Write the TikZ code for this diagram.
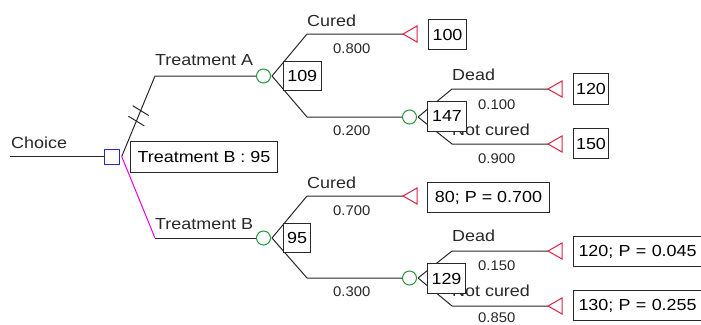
\documentclass[tikz,border=0pt]{standalone}
\usepackage{fontspec}
\setmainfont{Liberation Sans}
\newfontfamily\labelfont[FakeStretch=1.12]{Liberation Sans}
\newfontfamily\probfont[FakeStretch=1.06]{Liberation Sans}
\usetikzlibrary{calc}
\definecolor{linecol}{RGB}{40,40,40}
\definecolor{deccol}{RGB}{40,40,200}
\definecolor{chancecol}{RGB}{40,150,60}
\definecolor{termcol}{RGB}{220,30,70}
\definecolor{optcol}{RGB}{230,0,230}
\tikzset{
  branch/.style={draw=linecol, line width=1pt},
  decnode/.style={draw=deccol, line width=1pt, fill=white, minimum size=15pt, inner sep=0pt},
  chancenode/.style={circle, draw=chancecol, line width=1pt, fill=white, minimum size=14pt, inner sep=0pt},
  valbox/.style={draw=linecol, line width=1pt, fill=white, anchor=north west, inner sep=0pt,
    font=\labelfont\fontsize{16}{18}\selectfont},
  lbl/.style={anchor=base west, inner sep=0pt, text=linecol, font=\labelfont\fontsize{16}{18}\selectfont},
  prob/.style={anchor=base west, inner sep=0pt, text=linecol, font=\probfont\fontsize{14}{16}\selectfont},
  termtri/.pic={\draw[termcol, line width=1pt] (0,0) -- (14,-8) -- (14,8) -- cycle;}
}
\begin{document}
\begin{tikzpicture}[x=1pt, y=-1pt]
\useasboundingbox (0,0) rectangle (701,324);

% decision node and its two options
\coordinate (root) at (10,156.5);
\node[decnode] (dec) at (111.5,156.5) {};
\coordinate (dapex) at (121.7,156.5);
\coordinate (kA) at (155,76);
\coordinate (kB) at (155,238);

% chance nodes
\node[chancenode] (cA) at (263.5,76) {};
\node[chancenode] (cB) at (263.5,238) {};
\node[chancenode] (cA2) at (409.5,117) {};
\node[chancenode] (cB2) at (409.5,278) {};
\coordinate (aA) at (272,76);
\coordinate (aB) at (272,238);
\coordinate (aA2) at (418,117);
\coordinate (aB2) at (418,278);

% branch corners
\coordinate (kA1) at (307,34);
\coordinate (kA0) at (307,117);
\coordinate (kB1) at (307,196);
\coordinate (kB0) at (307,278);
\coordinate (kA2d) at (452,89);
\coordinate (kA2n) at (452,144);
\coordinate (kB2d) at (452,251);
\coordinate (kB2n) at (452,306);

% terminal node tips
\coordinate (tA1) at (403,34);
\coordinate (tB1) at (403,196);
\coordinate (tA2d) at (548,89);
\coordinate (tA2n) at (548,144);
\coordinate (tB2d) at (548,251);
\coordinate (tB2n) at (548,306);

% connectors
\draw[branch] (root) -- (dec.west);
\draw[branch] (dapex) -- (kA) -- (cA.west);
\draw[optcol, line width=1pt] (dapex) -- (kB);
\draw[branch] (kB) -- (cB.west);
\draw[branch] (aA) -- (kA1) -- (tA1);
\draw[branch] (aA) -- (kA0) -- (cA2.west);
\draw[branch] (aB) -- (kB1) -- (tB1);
\draw[branch] (aB) -- (kB0) -- (cB2.west);
\draw[branch] (aA2) -- (kA2d) -- (tA2d);
\draw[branch] (aA2) -- (kA2n) -- (tA2n);
\draw[branch] (aB2) -- (kB2d) -- (tB2d);
\draw[branch] (aB2) -- (kB2n) -- (tB2n);

% rejected option marks
\draw[branch] ($(dapex)!0.57!(kA)$) ++(-8,-4.9) -- ++(16,9.8);
\draw[branch] ($(dapex)!0.44!(kA)$) ++(-8,-4.9) -- ++(16,9.8);

% terminal nodes
\foreach \t in {tA1,tB1,tA2d,tA2n,tB2d,tB2n} \pic at (\t) {termtri};

% branch labels
\node[lbl] (lchoice) at (11,148.3) {Choice};
\node[lbl] (ltA) at (155,65.5) {Treatment A};
\node[lbl] (ltB) at (155,229) {Treatment B};
\node[lbl] (lcA) at (307,26.7) {Cured};
\node[prob] (pcA) at (333,53.3) {0.800};
\node[prob] (pnA) at (333,135) {0.200};
\node[lbl] (ldA) at (452,80) {Dead};
\node[prob] (pdA) at (478,109) {0.100};
\node[lbl] (lnA) at (452,135) {Not cured};
\node[prob] (pncA) at (478,163) {0.900};
\node[lbl] (lcB) at (307,188.3) {Cured};
\node[prob] (pcB) at (333,215) {0.700};
\node[prob] (pnB) at (333,296.7) {0.300};
\node[lbl] (ldB) at (452,241.7) {Dead};
\node[prob] (pdB) at (478,270.7) {0.150};
\node[lbl] (lnB) at (452,296.7) {Not cured};
\node[prob] (pncB) at (478,322) {0.850};

% value boxes
\node[valbox, minimum width=147pt, minimum height=31pt] (vdec) at (130,141) {Treatment B : 95};
\node[valbox, minimum width=37.5pt, minimum height=29.5pt] (vA) at (283,60.5) {109};
\node[valbox, minimum width=27pt, minimum height=29pt] (vB) at (283,223) {95};
\node[valbox, minimum width=38pt, minimum height=30pt] (vA1) at (428,19) {100};
\node[valbox, minimum width=39pt, minimum height=30.5pt] (vA2) at (427,100.5) {147};
\node[valbox, minimum width=35pt, minimum height=31pt] (vA2d) at (573,73) {120};
\node[valbox, minimum width=35pt, minimum height=30pt] (vA2n) at (573,128) {150};
\node[valbox, minimum width=122pt, minimum height=30pt] (vB1) at (427,182) {80; P = 0.700};
\node[valbox, minimum width=38pt, minimum height=30pt] (vB2) at (427,263) {129};
\node[valbox, minimum height=30pt, inner xsep=5pt, text width=130pt, align=left] (vB2d) at (573,236) {120; P = 0.045};
\node[valbox, minimum height=30pt, inner xsep=5pt, text width=130pt, align=left] (vB2n) at (573,290) {130; P = 0.255};
\end{tikzpicture}
\end{document}
